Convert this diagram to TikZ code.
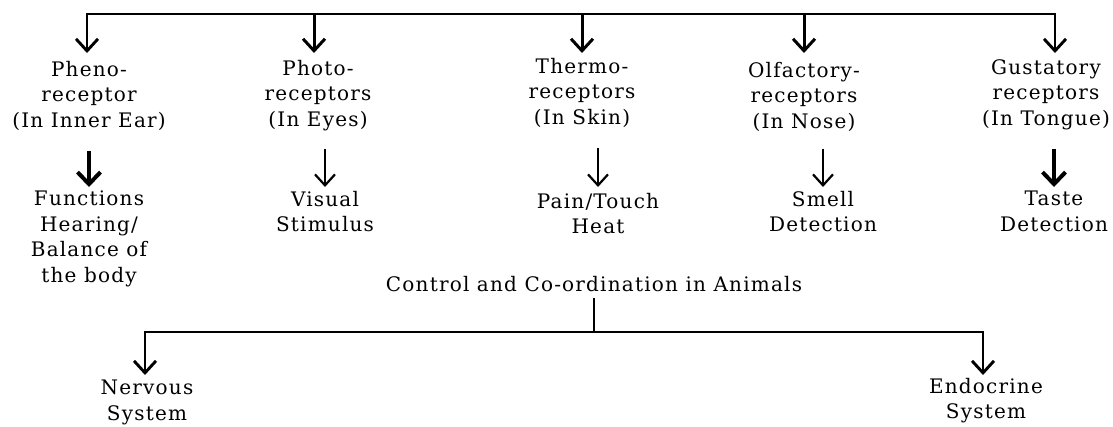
\documentclass[tikz,border=0pt]{standalone}
\usepackage{fontspec}
\setmainfont{DejaVu Serif}[LetterSpace=6]
\usetikzlibrary{arrows.meta}
\begin{document}
\begin{tikzpicture}[x=1pt,y=-1pt,
  lbl/.style={align=center, inner sep=0pt, anchor=north, font=\fontsize{20}{25.5}\selectfont},
  bar/.style={line width=2.9pt, line join=miter},
  tipA/.tip={Straight Barb[length=12pt,width=22pt]},
  tipB/.tip={Straight Barb[length=12pt,width=23pt]},
  tipC/.tip={Straight Barb[length=11pt,width=20pt]},
  arrtop/.style={line width=3pt, -tipA},
  arrthick/.style={line width=4pt, -tipB},
  arrthin/.style={line width=2.2pt, -tipC},
]
\useasboundingbox (0,0) rectangle (1113,426);

% first-level receptor nodes
\node[lbl] (pheno) at (89,61) {Pheno-\\receptor\\(In Inner Ear)};
\node[lbl] (photo) at (318,60) {Photo-\\receptors\\(In Eyes)};
\node[lbl] (thermo) at (582,58) {Thermo-\\receptors\\(In Skin)};
\node[lbl] (olf) at (804,62) {Olfactory-\\receptors\\(In Nose)};
\node[lbl] (gust) at (1046,59) {Gustatory\\receptors\\(In Tongue)};

% second-level nodes
\node[lbl] (func) at (89,191) {Functions\\Hearing/\\Balance of\\the body};
\node[lbl] (visual) at (325,191) {Visual\\Stimulus};
\node[lbl] (pain) at (598,193) {Pain/Touch\\Heat};
\node[lbl] (smell) at (823,191) {Smell\\Detection};
\node[lbl] (taste) at (1054,191) {Taste\\Detection};

% bottom tree
\node[lbl] (ctrl) at (594,276) {Control and Co-ordination in Animals};
\node[lbl] (nerv) at (147,380) {Nervous\\System};
\node[lbl] (endo) at (986,378) {Endocrine\\System};

% top bar coordinates
\coordinate (t1) at (87,14);
\coordinate (t2) at (314,14);
\coordinate (t3) at (582,14);
\coordinate (t4) at (804,14);
\coordinate (t5) at (1055,14);

% top bar with the two outer arrows
\draw[bar, tipA-tipA] ([yshift=8pt]t1 |- pheno.north) -- (t1) -- (t5) -- ([yshift=6pt]t5 |- gust.north);
\draw[arrtop] (t2) -- ([yshift=7pt]t2 |- photo.north);
\draw[arrtop] (t3) -- ([yshift=5pt]t3 |- thermo.north);
\draw[arrtop] (t4) -- ([yshift=9pt]t4 |- olf.north);

% second-level arrows
\draw[arrthick] ([yshift=-20pt]func.north |- pheno.south) -- ([yshift=4pt]func.north);
\draw[arrthin] ([yshift=-18pt]visual.north |- photo.south) -- ([yshift=4pt]visual.north);
\draw[arrthin] ([yshift=-20pt]pain.north |- thermo.south) -- ([yshift=6pt]pain.north);
\draw[arrthin] ([yshift=-17pt]smell.north |- olf.south) -- ([yshift=4pt]smell.north);
\draw[arrthick] ([yshift=-19pt]taste.north |- gust.south) -- ([yshift=4pt]taste.north);

% bottom tree connectors
\coordinate (bl) at (145,332);
\coordinate (br) at (983,332);
\draw[bar] ([yshift=-6pt]ctrl.south) -- (ctrl.south |- bl);
\draw[bar, tipA-tipA] ([yshift=5pt]bl |- nerv.north) -- (bl) -- (br) -- ([yshift=3pt]br |- endo.north);
\end{tikzpicture}
\end{document}
